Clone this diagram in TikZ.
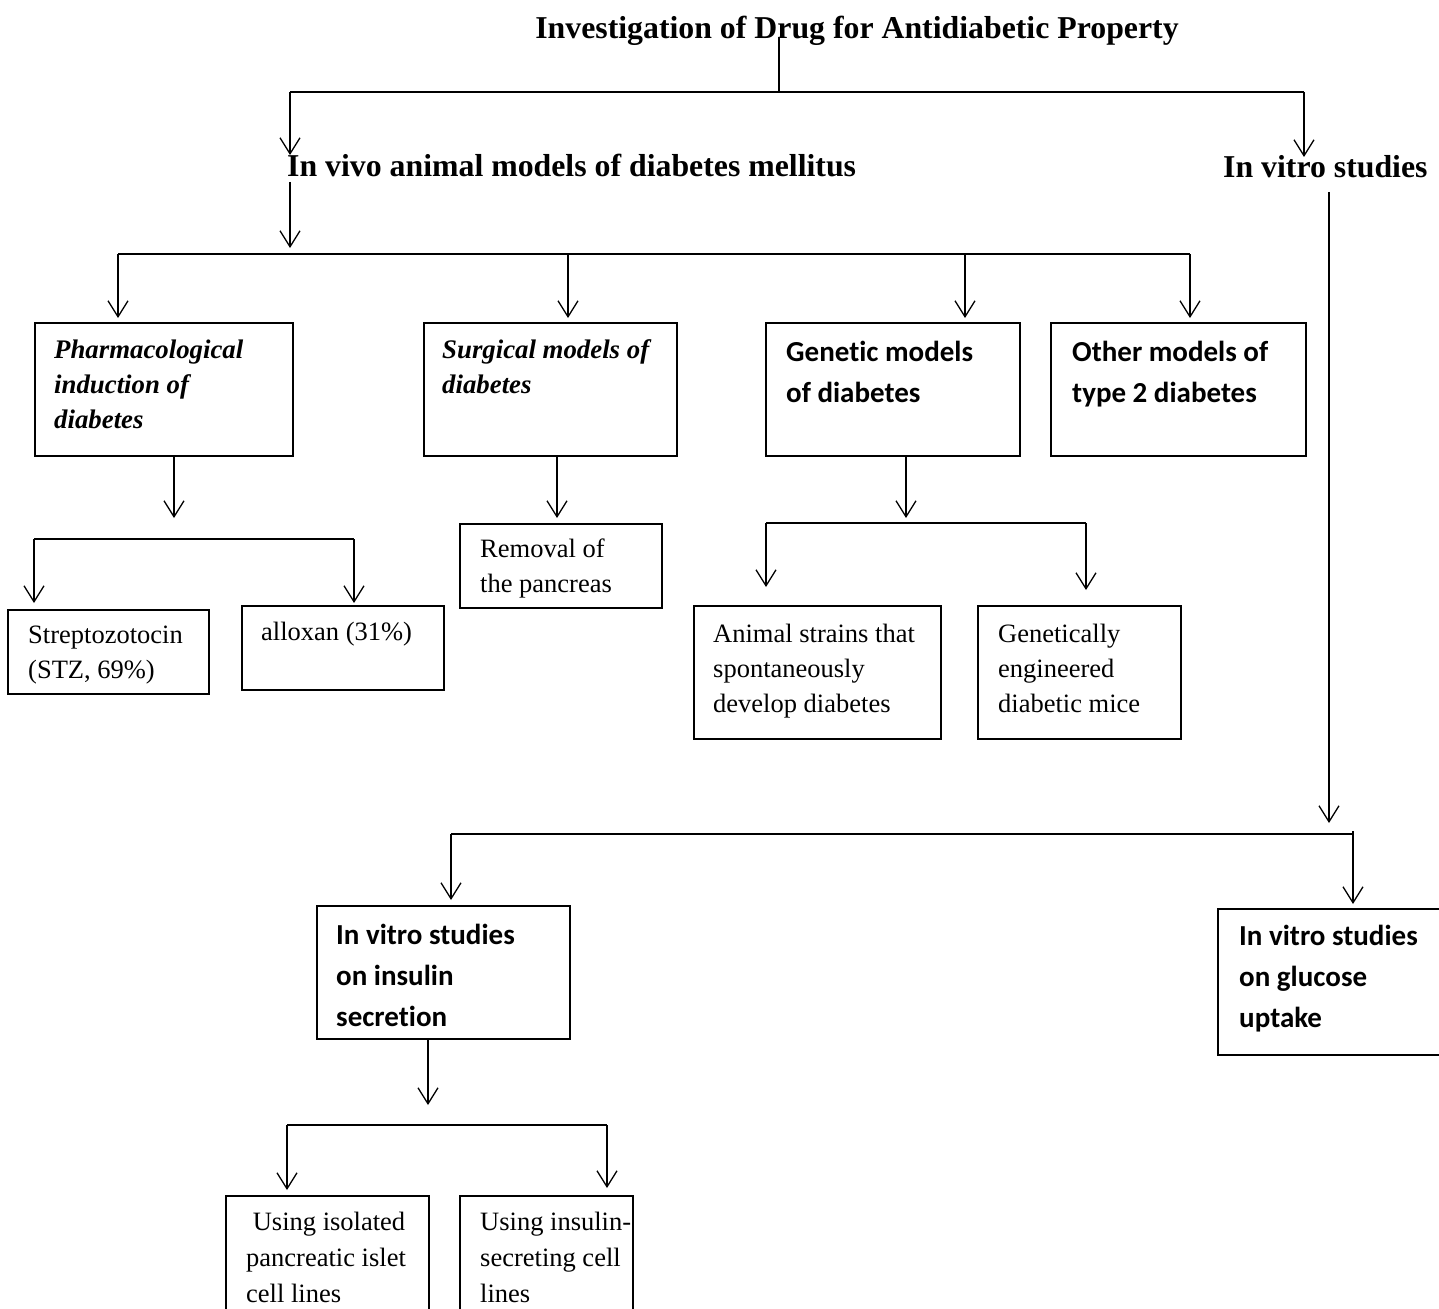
\documentclass[tikz,border=0pt]{standalone}
\usepackage{fontspec}
\setmainfont{Liberation Serif}
\newfontfamily\calfont[Ligatures=NoCommon]{Carlito}
\usetikzlibrary{arrows.meta}
\tikzset{
  conn/.style={line width=1.4pt},
  arr/.style={conn, -{Straight Barb[length=16pt,width=20pt,line width=1.3pt]}},
  box/.style={draw, line width=1.9pt, inner sep=0pt, anchor=north west},
  txt/.style={inner sep=0pt, anchor=base west, align=left},
  head/.style={inner sep=0pt, anchor=base west, font=\fontsize{31.8}{38}\selectfont\bfseries},
  plain/.style={txt, font=\fontsize{26.5}{35}\selectfont},
  bi/.style={txt, font=\fontsize{26.8}{35}\selectfont\bfseries\itshape},
  cb/.style={txt, font=\fontsize{29}{41}\selectfont\calfont\bfseries},
}
\begin{document}
\begin{tikzpicture}[x=1pt,y=-1pt]
\useasboundingbox (0,0) rectangle (1439,1308);
\clip (0,0) rectangle (1439,1308);

% headings
\node[head, anchor=base] (title) at (857,39) {Investigation of Drug for Antidiabetic Property};
\node[head] (vivo) at (287,177) {In vivo animal models of diabetes mellitus};
\node[head] (vitro) at (1223,178) {In vitro studies};

% level-1 boxes (text nodes anchored at the baseline of their last line)
\node[box, minimum width=258pt, minimum height=133pt] (pharm) at (34,322) {};
\node[box, minimum width=253pt, minimum height=133pt] (surg) at (423,322) {};
\node[box, minimum width=254pt, minimum height=133pt] (gen) at (765,322) {};
\node[box, minimum width=255pt, minimum height=133pt] (other) at (1050,322) {};
\node[bi] (pharmT) at (54,428) {Pharmacological\\induction of\\diabetes};
\node[bi] (surgT) at (442,393) {Surgical models of\\diabetes};
\node[cb] (genT) at (786,402) {Genetic models\\of diabetes};
\node[cb] (otherT) at (1072,402) {Other models of\\type 2 diabetes};

% level-2 boxes
\node[box, minimum width=201pt, minimum height=84pt] (strep) at (7,609) {};
\node[box, minimum width=202pt, minimum height=84pt] (allox) at (241,605) {};
\node[box, minimum width=202pt, minimum height=84pt] (remov) at (459,523) {};
\node[box, minimum width=247pt, minimum height=133pt] (animal) at (693,605) {};
\node[box, minimum width=203pt, minimum height=133pt] (genet) at (977,605) {};
\node[plain] (strepT) at (28,678) {Streptozotocin\\(STZ, 69\%)};
\node[plain] (alloxT) at (261,640) {alloxan (31\%)};
\node[plain] (removT) at (480,592) {Removal of\\the pancreas};
\node[plain] (animalT) at (713,712) {Animal strains that\\spontaneously\\develop diabetes};
\node[plain] (genetT) at (998,712) {Genetically\\engineered\\diabetic mice};

% in vitro boxes
\node[box, minimum width=253pt, minimum height=133pt] (insul) at (316,905) {};
\node[box, minimum width=240pt, minimum height=146pt] (gluc) at (1217,908) {};
\node[cb] (insulT) at (336,1026) {In vitro studies\\on insulin\\secretion};
\node[cb] (glucT) at (1239,1027) {In vitro studies\\on glucose\\uptake};

\node[box, minimum width=203pt, minimum height=130pt] (iso) at (225,1195) {};
\node[box, minimum width=173pt, minimum height=130pt] (sec) at (459,1195) {};
\node[plain, font=\fontsize{26.5}{36}\selectfont] (isoT) at (246,1302) {\hspace*{0.25em}Using isolated\\pancreatic islet\\cell lines};
\node[plain, font=\fontsize{26.5}{36}\selectfont] (secT) at (480,1302) {Using insulin-\\secreting cell\\lines};

% connector points
\coordinate (tA) at (779,37);
\coordinate (tB) at (779,92);
\coordinate (b0L) at (290,92);
\coordinate (b0R) at (1304,92);
\coordinate (vivoIn) at (290,155);
\coordinate (vitroIn) at (1304,157);
\coordinate (vivoOut) at (290,182);
\coordinate (vivoTip) at (290,248);
\coordinate (b1L) at (118,254);
\coordinate (b1R) at (1190,254);
\coordinate (b1S) at (568,254);
\coordinate (b1G) at (965,254);

\coordinate (pOut) at (174,455);
\coordinate (pTip) at (174,518);
\coordinate (b2L) at (34,539);
\coordinate (b2R) at (354,539);
\coordinate (sOut) at (557,455);
\coordinate (sTip) at (557,518);
\coordinate (gOut) at (906,455);
\coordinate (gTip) at (906,518);
\coordinate (b3L) at (766,523);
\coordinate (b3R) at (1086,523);
\coordinate (aTip) at (766,587);
\coordinate (eTip) at (1086,590);

\coordinate (vOut) at (1329,192);
\coordinate (vTip) at (1329,823);
\coordinate (b4L) at (451,834);
\coordinate (b4R) at (1353,834);
\coordinate (iOut) at (428,1040);
\coordinate (iTip) at (428,1105);
\coordinate (b5L) at (287,1125);
\coordinate (b5R) at (607,1125);

% connectors
\draw[conn] (tA) -- (tB);
\draw[conn] (b0L) -- (b0R);
\draw[arr] (b0L) -- (vivoIn);
\draw[arr] (b0R) -- (vitroIn);
\draw[arr] (vivoOut) -- (vivoTip);
\draw[conn] (b1L) -- (b1R);
\draw[arr] (b1L) -- ([yshift=4pt]b1L |- pharm.north);
\draw[arr] (b1S) -- ([yshift=4pt]b1S |- surg.north);
\draw[arr] (b1G) -- ([yshift=4pt]b1G |- gen.north);
\draw[arr] (b1R) -- ([yshift=4pt]b1R |- other.north);

\draw[arr] (pOut) -- (pTip);
\draw[conn] (b2L) -- (b2R);
\draw[arr] (b2L) -- ([yshift=6pt]b2L |- strep.north);
\draw[arr] (b2R) -- ([yshift=2pt]b2R |- allox.north);
\draw[arr] (sOut) -- (sTip);
\draw[arr] (gOut) -- (gTip);
\draw[conn] (b3L) -- (b3R);
\draw[arr] (b3L) -- (aTip);
\draw[arr] (b3R) -- (eTip);

\draw[arr] (vOut) -- (vTip);
\draw[conn] (b4L) -- (b4R);
\draw[arr] (b4L) -- ([yshift=5pt]b4L |- insul.north);
\draw[arr] ([yshift=3pt]b4R) -- ([yshift=4pt]b4R |- gluc.north);
\draw[arr] (iOut) -- (iTip);
\draw[conn] (b5L) -- (b5R);
\draw[arr] (b5L) -- ([yshift=5pt]b5L |- iso.north);
\draw[arr] (b5R) -- ([yshift=7pt]b5R |- sec.north);
\end{tikzpicture}
\end{document}
